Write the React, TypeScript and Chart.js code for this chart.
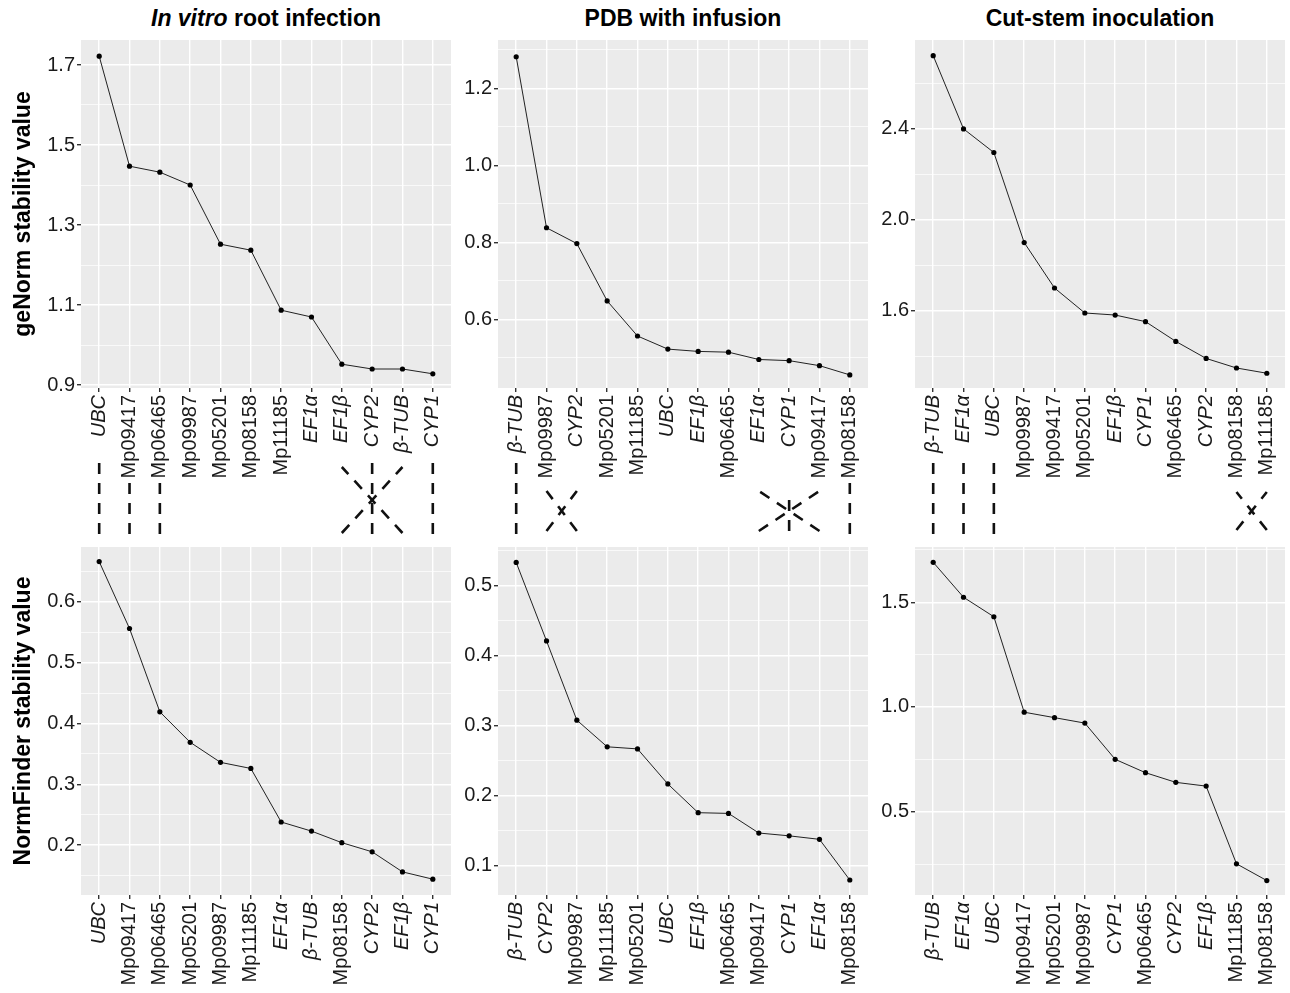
import React, { useEffect, useRef } from 'react';
import { Chart, registerables } from 'chart.js';

Chart.register(...registerables);

const FONT = '"Liberation Sans", Arial, Helvetica, sans-serif';

// ---------- geNorm (top row) ----------
const gnVitroGenes = ['UBC', 'Mp09417', 'Mp06465', 'Mp09987', 'Mp05201', 'Mp08158', 'Mp11185', 'EF1α', 'EF1β', 'CYP2', 'β-TUB', 'CYP1'];
const gnVitroValues = [1.722, 1.447, 1.432, 1.400, 1.252, 1.237, 1.087, 1.070, 0.952, 0.940, 0.940, 0.928];
const gnVitroTicks = [0.9, 1.1, 1.3, 1.5, 1.7];
const gnVitroRange = [0.8925, 1.7625];

const gnPdbGenes = ['β-TUB', 'Mp09987', 'CYP2', 'Mp05201', 'Mp11185', 'UBC', 'EF1β', 'Mp06465', 'EF1α', 'CYP1', 'Mp09417', 'Mp08158'];
const gnPdbValues = [1.282, 0.838, 0.797, 0.648, 0.557, 0.523, 0.517, 0.515, 0.496, 0.493, 0.480, 0.456];
const gnPdbTicks = [0.6, 0.8, 1.0, 1.2];
const gnPdbRange = [0.422, 1.3255];

const gnStemGenes = ['β-TUB', 'EF1α', 'UBC', 'Mp09987', 'Mp09417', 'Mp05201', 'EF1β', 'CYP1', 'Mp06465', 'CYP2', 'Mp08158', 'Mp11185'];
const gnStemValues = [2.722, 2.400, 2.296, 1.900, 1.700, 1.590, 1.581, 1.552, 1.465, 1.390, 1.348, 1.325];
const gnStemTicks = [1.6, 2.0, 2.4];
const gnStemRange = [1.26, 2.791];

// ---------- NormFinder (bottom row) ----------
const nfVitroGenes = ['UBC', 'Mp09417', 'Mp06465', 'Mp05201', 'Mp09987', 'Mp11185', 'EF1α', 'β-TUB', 'Mp08158', 'CYP2', 'EF1β', 'CYP1'];
const nfVitroValues = [0.666, 0.556, 0.419, 0.369, 0.336, 0.326, 0.238, 0.223, 0.204, 0.189, 0.156, 0.144];
const nfVitroTicks = [0.2, 0.3, 0.4, 0.5, 0.6];
const nfVitroRange = [0.118, 0.69];

const nfPdbGenes = ['β-TUB', 'CYP2', 'Mp09987', 'Mp11185', 'Mp05201', 'UBC', 'EF1β', 'Mp06465', 'Mp09417', 'CYP1', 'EF1α', 'Mp08158'];
const nfPdbValues = [0.533, 0.421, 0.308, 0.270, 0.267, 0.217, 0.176, 0.175, 0.147, 0.143, 0.138, 0.080];
const nfPdbTicks = [0.1, 0.2, 0.3, 0.4, 0.5];
const nfPdbRange = [0.0586, 0.555];

const nfStemGenes = ['β-TUB', 'EF1α', 'UBC', 'Mp09417', 'Mp05201', 'Mp09987', 'CYP1', 'Mp06465', 'CYP2', 'EF1β', 'Mp11185', 'Mp08158'];
const nfStemValues = [1.691, 1.524, 1.431, 0.975, 0.949, 0.923, 0.750, 0.686, 0.640, 0.622, 0.251, 0.171];
const nfStemTicks = [0.5, 1.0, 1.5];
const nfStemRange = [0.102, 1.764];

// ---------- dashed links between rows: [top index, bottom index, kind] ----------
const linksVitro: [number, number, string][] = [[0, 0, 'v'], [1, 1, 'v'], [2, 2, 'v'], [9, 9, 'v'], [8, 10, 'x'], [10, 8, 'x'], [11, 11, 'v']];
const linksPdb: [number, number, string][] = [[0, 0, 'v'], [1, 2, 'x'], [2, 1, 'x'], [8, 10, 'x'], [9, 9, 'x'], [10, 8, 'x'], [11, 11, 'v']];
const linksStem: [number, number, string][] = [[0, 0, 'v'], [1, 1, 'v'], [2, 2, 'v'], [10, 11, 'x'], [11, 10, 'x']];

const titles = ['In vitro root infection', 'PDB with infusion', 'Cut-stem inoculation'];
const rowTitles = ['geNorm stability value', 'NormFinder stability value'];

// ---------- layout (page px) ----------
const PLOT_LEFT = [81, 498, 915];
const PLOT_W = 370;
const Y_AXIS_W = [81, 60, 60];
const RIGHT_PAD = 4;
const ROW = [
  { top: 30, padTop: 10, area: 348, xH: 100, padBottom: 52 },
  { top: 537, padTop: 10, area: 348, xH: 98, padBottom: 0 },
];
const V_RANGE = [454, 534];
const X_RANGE = [[467, 533], [491, 531], [492, 530]];
const TICK_FONT = 20;
const TICK_LEN = 4;
const TICK_PAD = 3;

type Spec = {
  row: number; col: number; genes: string[]; values: number[]; ticks: number[]; range: number[];
  links?: [number, number, string][];
};

const specs: Spec[] = [
  { row: 0, col: 0, genes: gnVitroGenes, values: gnVitroValues, ticks: gnVitroTicks, range: gnVitroRange, links: linksVitro },
  { row: 0, col: 1, genes: gnPdbGenes, values: gnPdbValues, ticks: gnPdbTicks, range: gnPdbRange, links: linksPdb },
  { row: 0, col: 2, genes: gnStemGenes, values: gnStemValues, ticks: gnStemTicks, range: gnStemRange, links: linksStem },
  { row: 1, col: 0, genes: nfVitroGenes, values: nfVitroValues, ticks: nfVitroTicks, range: nfVitroRange },
  { row: 1, col: 1, genes: nfPdbGenes, values: nfPdbValues, ticks: nfPdbTicks, range: nfPdbRange },
  { row: 1, col: 2, genes: nfStemGenes, values: nfStemValues, ticks: nfStemTicks, range: nfStemRange },
];

const TEXT = '#1a1a1a';

function gridValues(ticks: number[], range: number[]) {
  const step = ticks[1] - ticks[0];
  const out: number[] = [];
  for (let i = -1; i <= ticks.length; i++) {
    const major = ticks[0] + i * step;
    const minor = major + step / 2;
    if (i >= 0 && i < ticks.length) out.push(ticks[i]);
    if (minor >= range[0] && minor <= range[1]) out.push(+minor.toFixed(6));
  }
  return out.sort((a, b) => a - b);
}

const isMajor = (ticks: number[], v: number) => ticks.some((t) => Math.abs(t - v) < 1e-6);
const isItalic = (g: string) => !g.startsWith('Mp');

function Panel({ spec }: { spec: Spec }) {
  const ref = useRef<HTMLCanvasElement>(null);
  const r = ROW[spec.row];
  const left = PLOT_LEFT[spec.col] - Y_AXIS_W[spec.col];
  const width = Y_AXIS_W[spec.col] + PLOT_W + RIGHT_PAD;
  const height = r.padTop + r.area + r.xH + r.padBottom;

  useEffect(() => {
    const grid = gridValues(spec.ticks, spec.range);
    const n = spec.genes.length;
    const bgPlugin = {
      id: 'panelBg',
      beforeDraw(chart: any) {
        const { ctx, chartArea: a } = chart;
        ctx.save();
        ctx.fillStyle = '#EBEBEB';
        ctx.fillRect(a.left, a.top, a.right - a.left, a.bottom - a.top);
        ctx.restore();
      },
    };
    const linkPlugin = {
      id: 'links',
      afterDraw(chart: any) {
        if (!spec.links) return;
        const xs = chart.scales.x;
        const ctx = chart.ctx;
        ctx.save();
        ctx.strokeStyle = '#111';
        ctx.lineWidth = 2.6;
        ctx.setLineDash([11, 9]);
        for (const [a, b, kind] of spec.links) {
          let y0: number;
          let y1: number;
          if (kind === 'v') {
            const g = spec.genes[a];
            ctx.font = `${isItalic(g) ? 'italic ' : ''}${TICK_FONT}px ${FONT}`;
            const labelEnd = xs.top + TICK_LEN + TICK_PAD + ctx.measureText(g).width;
            y0 = Math.max(V_RANGE[0] - r.top, labelEnd + 2);
            y1 = V_RANGE[1] - r.top;
          } else {
            y0 = X_RANGE[spec.col][0] - r.top;
            y1 = X_RANGE[spec.col][1] - r.top;
          }
          // draw from the bottom end upwards so each line ends with a dash
          ctx.beginPath();
          ctx.moveTo(xs.getPixelForValue(b), y1);
          ctx.lineTo(xs.getPixelForValue(a), y0);
          ctx.stroke();
        }
        ctx.restore();
      },
    };

    const chart = new Chart(ref.current as HTMLCanvasElement, {
      type: 'line',
      data: {
        datasets: [
          {
            data: spec.values.map((v, i) => ({ x: i, y: v })),
            borderColor: '#222',
            borderWidth: 1,
            pointRadius: 2.6,
            pointBackgroundColor: '#000',
            pointBorderWidth: 0,
            tension: 0,
          },
        ],
      },
      options: {
        responsive: false,
        animation: false,
        devicePixelRatio: 1,
        layout: { padding: { top: r.padTop, bottom: r.padBottom, left: 0, right: RIGHT_PAD } },
        plugins: { legend: { display: false }, tooltip: { enabled: false }, title: { display: false } },
        scales: {
          x: {
            type: 'linear',
            min: -0.6,
            max: n - 1 + 0.6,
            afterBuildTicks: (s: any) => {
              s.ticks = spec.genes.map((_, i) => ({ value: i }));
            },
            afterFit: (s: any) => {
              s.height = r.xH;
              s.paddingLeft = 0;
              s.paddingRight = 0;
            },
            ticks: {
              autoSkip: false,
              minRotation: 90,
              maxRotation: 90,
              padding: TICK_PAD,
              color: TEXT,
              callback: (v: any) => spec.genes[Math.round(Number(v))] ?? '',
              font: (ctx: any) => ({
                size: TICK_FONT,
                family: FONT,
                style: isItalic(spec.genes[ctx.index] || '') ? 'italic' : 'normal',
              }),
            },
            grid: { color: '#ffffff', lineWidth: 1.4, tickColor: '#333', tickLength: TICK_LEN, drawTicks: true },
            border: { display: false },
          },
          y: {
            type: 'linear',
            min: spec.range[0],
            max: spec.range[1],
            afterBuildTicks: (s: any) => {
              s.ticks = grid.map((v) => ({ value: v }));
            },
            afterFit: (s: any) => {
              s.width = Y_AXIS_W[spec.col];
              s.paddingTop = 0;
              s.paddingBottom = 0;
            },
            ticks: {
              autoSkip: false,
              padding: 2,
              color: TEXT,
              font: { size: TICK_FONT, family: FONT },
              callback: (v: any) => (isMajor(spec.ticks, Number(v)) ? Number(v).toFixed(1) : ''),
            },
            grid: {
              color: '#ffffff',
              lineWidth: (ctx: any) => (ctx.tick && isMajor(spec.ticks, ctx.tick.value) ? 1.4 : 0.7),
              tickColor: (ctx: any) => (ctx.tick && isMajor(spec.ticks, ctx.tick.value) ? '#333' : 'rgba(0,0,0,0)'),
              tickLength: TICK_LEN,
              drawTicks: true,
            },
            border: { display: false },
            title: {
              display: spec.col === 0,
              text: rowTitles[spec.row],
              color: '#000',
              font: { size: 23, weight: 'bold', family: FONT },
              padding: { top: 10, bottom: 0 },
            },
          },
        },
      },
      plugins: [bgPlugin, linkPlugin],
    } as any);
    return () => chart.destroy();
  }, []);

  return (
    <canvas
      ref={ref}
      width={width}
      height={height}
      style={{ position: 'absolute', left, top: r.top, width, height }}
    />
  );
}

export default function App() {
  const titleStyle = (c: number): React.CSSProperties => ({
    position: 'absolute',
    left: PLOT_LEFT[c],
    width: PLOT_W,
    top: 4,
    lineHeight: '28px',
    textAlign: 'center',
    fontFamily: FONT,
    fontWeight: 'bold',
    fontSize: 23,
    color: '#000',
    whiteSpace: 'nowrap',
  });
  return (
    <div
      style={{
        position: 'absolute',
        left: 0,
        top: 0,
        width: 1290,
        height: 993,
        background: '#fff',
        overflow: 'hidden',
      }}
    >
      <div style={titleStyle(0)}>
        <i>In vitro</i>
        {titles[0].slice('In vitro'.length)}
      </div>
      <div style={titleStyle(1)}>{titles[1]}</div>
      <div style={titleStyle(2)}>{titles[2]}</div>
      {specs.map((s, i) => (
        <Panel key={i} spec={s} />
      ))}
    </div>
  );
}
